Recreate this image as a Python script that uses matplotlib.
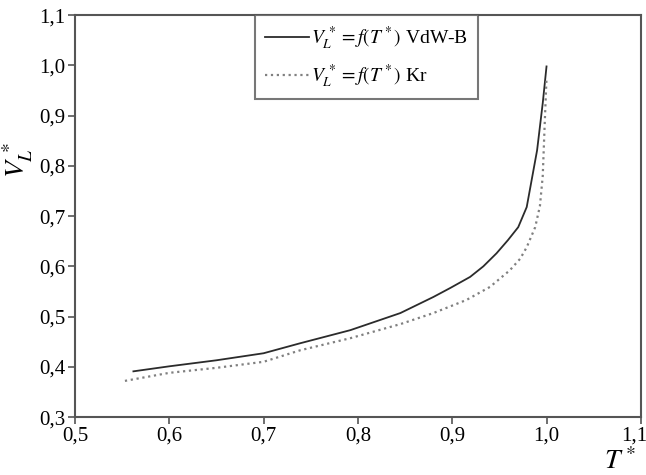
import matplotlib
matplotlib.use('Agg')
import matplotlib.pyplot as plt
from matplotlib.ticker import FuncFormatter
from matplotlib.transforms import ScaledTranslation

plt.rcParams['font.family'] = ['Liberation Serif', 'DejaVu Serif']
plt.rcParams['mathtext.fontset'] = 'stix'

# VdW-B curve
t_vdw = [0.562, 0.6, 0.65, 0.7, 0.739, 0.792, 0.845, 0.88, 0.898, 0.919,
         0.933, 0.947, 0.959, 0.97, 0.979, 0.99, 0.996, 1.0]
v_vdw = [0.391, 0.401, 0.413, 0.427, 0.447, 0.473, 0.507, 0.539, 0.557, 0.579,
         0.600, 0.626, 0.652, 0.678, 0.718, 0.831, 0.925, 0.998]

# Kr curve
t_kr = [0.553, 0.6, 0.65, 0.7, 0.739, 0.792, 0.845, 0.88, 0.915, 0.94,
        0.961, 0.972, 0.979, 0.988, 0.993, 0.996, 0.998, 1.0]
v_kr = [0.372, 0.388, 0.398, 0.41, 0.433, 0.457, 0.485, 0.507, 0.533, 0.559,
        0.592, 0.615, 0.638, 0.678, 0.72, 0.78, 0.88, 0.975]

x_ticks = [0.5, 0.6, 0.7, 0.8, 0.9, 1.0, 1.1]
y_ticks = [0.3, 0.4, 0.5, 0.6, 0.7, 0.8, 0.9, 1.0, 1.1]

fig = plt.figure(figsize=(6.46, 4.75), dpi=100)
ax = fig.add_axes([0.116, 0.122, 0.876, 0.846])

ax.plot(t_vdw, v_vdw, '-', color='#2b2b2b', lw=1.3,
        label=r'$V_L^{\,*} = f(T^*)$ VdW-B')
ax.plot(t_kr, v_kr, ':', color='#808080', lw=1.6,
        label=r'$V_L^{\,*} = f(T^*)$ Kr')

ax.set_xlim(0.5, 1.1)
ax.set_ylim(0.3, 1.1)
ax.set_xticks(x_ticks)
ax.set_yticks(y_ticks)
comma = FuncFormatter(lambda v, p: ('%.1f' % v).replace('.', ','))
ax.xaxis.set_major_formatter(comma)
ax.yaxis.set_major_formatter(comma)
ax.tick_params(labelsize=15, length=5, width=1.2, color='#555555', pad=2)

# keep the last x label inside the picture
fig.canvas.draw()
last = ax.get_xticklabels()[-1]
last.set_transform(last.get_transform() + ScaledTranslation(-0.07, 0, fig.dpi_scale_trans))

for s in ax.spines.values():
    s.set_color('#555555')
    s.set_linewidth(1.5)

ax.text(-0.1, 0.64, r'$V_L^{\,*}$', transform=ax.transAxes, rotation=90,
        fontsize=20, ha='center', va='center')
ax.text(0.963, -0.11, r'$T^*$', transform=ax.transAxes,
        fontsize=20, ha='center', va='center')

leg = ax.legend(loc='upper left', bbox_to_anchor=(0.318, 1.0), fontsize=14,
                frameon=True, fancybox=False, borderaxespad=0,
                handlelength=2.3, handletextpad=0.1, borderpad=0.5,
                labelspacing=0.5)
leg.get_frame().set_edgecolor('#555555')
leg.get_frame().set_linewidth(1.5)

fig.savefig('out.png', dpi=100)
